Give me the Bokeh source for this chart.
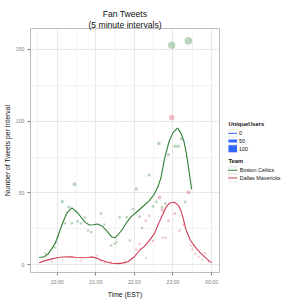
import numpy as np
from bokeh.plotting import figure
from bokeh.layouts import row
from bokeh.models import FixedTicker, Title, Range1d
from bokeh.core.properties import value
from bokeh.embed import file_html
from bokeh.resources import INLINE

FONT = "Liberation Sans"
GREEN = "#2f7f34"
RED = "#d23c55"
BLUE = "#3366ff"

# ---------------- data ----------------
x_tick_labels = ["20:00", "21:00", "22:00", "23:00", "00:00"]
y_tick_values = [0, 50, 100, 150]

celtics_time = ["19:42", "19:56", "19:58", "20:01", "20:08", "20:12", "20:18", "20:23", "20:27",
                "20:32", "20:37", "20:43", "20:48", "20:53", "21:08", "21:13", "21:24", "21:29",
                "21:32", "21:37", "21:48", "21:53", "21:58", "22:03", "22:08", "22:12", "22:23",
                "22:29", "22:34", "22:38", "22:43", "22:48", "22:53", "22:58", "23:03", "23:08",
                "23:13", "23:19", "23:24"]
celtics_tweets = [7.6, 12, 15.7, 19, 44, 28.8, 40, 28.8, 56,
                  30, 28.8, 33, 23.7, 22.6, 35.7, 27.9, 13.3, 14.5,
                  15.7, 33, 33, 16.8, 38.7, 52.7, 33.4, 25.6, 62.4,
                  40.5, 43.7, 84.5, 39.9, 42.6, 76.7, 153, 82.5, 82.5,
                  87.6, 43.7, 156]
celtics_users = [5, 5, 6, 6, 14, 8, 12, 8, 22,
                 9, 8, 10, 7, 7, 10, 6, 6, 6,
                 6, 9, 8, 6, 9, 14, 8, 6, 12,
                 9, 9, 18, 9, 9, 14, 100, 16, 16,
                 14, 9, 110]

mavs_time = ["19:52", "20:08", "20:23", "20:37", "20:54", "21:02", "21:07", "21:14", "21:24",
             "21:35", "21:45", "22:03", "22:08", "22:18", "22:18", "22:23", "22:29", "22:39",
             "22:43", "22:44", "22:49", "22:53", "22:58", "23:03", "23:10", "23:16", "23:24",
             "23:28", "23:30", "23:35", "23:40", "23:46", "23:50", "23:55"]
mavs_tweets = [2, 2.8, 5.7, 2.8, 5.3, 6.4, 2.8, 1.4, 2,
               1, 2.5, 10.6, 14.5, 4.8, 30.6, 34, 16.4, 46.8,
               38, 18.7, 18.7, 30.6, 102.5, 35.7, 23.7, 27.9, 50.4,
               13.3, 10.4, 7.6, 5.3, 3, 8, 2]
mavs_users = [2, 2, 3, 2, 3, 3, 2, 2, 2,
              2, 2, 4, 5, 3, 7, 7, 5, 20,
              12, 5, 5, 8, 55, 10, 6, 6, 22,
              4, 4, 4, 3, 2, 3, 2]

celtics_smooth_time = ["19:32", "19:40", "19:46", "19:52", "19:57", "20:02", "20:08", "20:15",
                       "20:23", "20:32", "20:43", "20:50", "20:56", "21:03", "21:10", "21:17",
                       "21:25", "21:30", "21:35", "21:42", "21:48", "21:55", "22:03", "22:12",
                       "22:23", "22:30", "22:36", "22:41", "22:47", "22:54", "23:00", "23:07",
                       "23:12", "23:17", "23:21", "23:25", "23:29"]
celtics_smooth = [5, 5.5, 7.5, 11.5, 15, 21, 28.5, 36,
                  39.6, 36, 29.6, 27.6, 27.8, 28.3, 26.8, 23.5,
                  19.2, 18.7, 21, 25, 29.5, 33.5, 36.5, 40,
                  44.4, 48.5, 53.7, 60, 74, 86, 92, 95.2,
                  92, 86, 77, 65, 52.5]

mavs_smooth_time = ["19:32", "19:40", "19:52", "20:00", "20:08", "20:20", "20:30", "20:38",
                    "20:46", "20:54", "21:02", "21:09", "21:17", "21:25", "21:35", "21:43",
                    "21:50", "22:00", "22:08", "22:15", "22:21", "22:26", "22:31", "22:36",
                    "22:44", "22:49", "22:55", "23:02", "23:08", "23:12", "23:16", "23:20",
                    "23:27", "23:35", "23:43", "23:50", "23:58", "00:00"]
mavs_smooth = [1.3, 2.6, 4, 4.8, 5.3, 5.5, 5, 4.8,
               5, 5.3, 4.5, 3, 1.8, 1, 0.7, 1.2,
               2, 5.5, 10, 12.5, 15.5, 18.5, 21.5, 27,
               35, 40, 43, 43.5, 41.5, 38, 32, 24.5,
               17, 12, 8, 5, 1.9, 1.3]

size_legend_values = [0, 50, 100]
size_legend_title = "UniqueUsers"
team_legend_title = "Team"
teams = ["Boston Celtics", "Dallas Mavericks"]


def hours(t):
    h, m = map(int, t.split(":"))
    if h < 12:
        h += 24
    return h + m / 60.0


def dot_size(users):
    return [1.0 + 0.64 * np.sqrt(u) for u in users]


# ---------------- main plot ----------------
p = figure(width=222, height=300, output_backend="svg", toolbar_location=None,
           x_range=Range1d(19.308, 24.205), y_range=Range1d(-5.5, 164.6),
           min_border_left=28, min_border_right=3, min_border_top=28, min_border_bottom=27)
p.background_fill_color = "white"
p.border_fill_color = "white"
p.outline_line_color = "#bdbdbd"
p.outline_line_width = 1

p.title.text = "Fan Tweets"
p.title.align = "center"
p.title.text_font = FONT
p.title.text_font_size = "8.6px"
p.title.text_font_style = "normal"
p.title.text_color = "#111111"
p.title.standoff = -1
p.title.offset = 0
t2 = Title(text="(5 minute intervals)", align="center", text_font=FONT, text_font_size="8.6px",
           text_font_style="normal", text_color="#111111", standoff=-2)
p.add_layout(t2, "above")

tick_hours = [hours(t) for t in x_tick_labels]
p.xaxis.ticker = FixedTicker(ticks=tick_hours,
                             minor_ticks=[h - 0.5 for h in tick_hours] + [tick_hours[-1] + 0.5])
p.xaxis.major_label_overrides = {h: lab for h, lab in zip(tick_hours, x_tick_labels)}
p.yaxis.ticker = FixedTicker(ticks=y_tick_values,
                             minor_ticks=[v + 25 for v in y_tick_values])

for ax in (p.xaxis, p.yaxis):
    ax.axis_line_color = None
    ax.major_tick_in = 0
    ax.major_tick_out = 3
    ax.major_tick_line_color = "#7f7f7f"
    ax.minor_tick_line_color = None
    ax.major_label_text_font = FONT
    ax.major_label_text_font_size = "5.2px"
    ax.major_label_text_color = "#7f7f7f"
    ax.major_label_standoff = 2
    ax.axis_label_text_font = FONT
    ax.axis_label_text_font_size = "6.8px"
    ax.axis_label_text_font_style = "normal"
    ax.axis_label_text_color = "#111111"

p.xaxis.axis_label = "Time (EST)"
p.xaxis.axis_label_standoff = 3
p.yaxis.axis_label = "Number of Tweets per Interval"
p.yaxis.axis_label_standoff = 2

p.xgrid.grid_line_color = "#e8e8e8"
p.ygrid.grid_line_color = "#e8e8e8"
p.xgrid.minor_grid_line_color = "#f3f3f3"
p.ygrid.minor_grid_line_color = "#f3f3f3"

p.scatter([hours(t) for t in celtics_time], celtics_tweets, size=dot_size(celtics_users),
          fill_color=GREEN, fill_alpha=0.32, line_color=None)
p.scatter([hours(t) for t in mavs_time], mavs_tweets, size=dot_size(mavs_users),
          fill_color=RED, fill_alpha=0.32, line_color=None)

p.line([hours(t) for t in celtics_smooth_time], celtics_smooth, line_color=GREEN, line_width=1.1)
p.line([hours(t) for t in mavs_smooth_time], mavs_smooth, line_color=RED, line_width=1.1)

# ---------------- legend panel ----------------
q = figure(width=78, height=300, output_backend="svg", toolbar_location=None,
           x_range=Range1d(222, 300), y_range=Range1d(300, 0),
           x_axis_location=None, y_axis_location=None,
           min_border=0, min_border_left=0, min_border_right=0,
           min_border_top=0, min_border_bottom=0)
q.title.visible = False
q.grid.visible = False
q.outline_line_color = None
q.background_fill_color = "white"
q.border_fill_color = "white"

key_x0, key_x1 = 228.0, 236.5
size_key_y = [128.9, 138.4, 147.9]
size_key_w = [1, 3, 7]
team_key_y = [174.2, 183.9]

q.rect(x=[(key_x0 + key_x1) / 2] * 5, y=size_key_y + team_key_y, width=key_x1 - key_x0,
       height=9.4, fill_color="white", line_color="#e3e3e3", line_width=0.7)
q.segment(x0=[key_x0] * 3, x1=[key_x1] * 3, y0=size_key_y, y1=size_key_y,
          line_color=BLUE, line_width=size_key_w)
q.segment(x0=[key_x0] * 2, x1=[key_x1] * 2, y0=team_key_y, y1=team_key_y,
          line_color=[GREEN, RED], line_width=1.1)

q.text(x=[228, 228], y=[118, 163.5], text=[size_legend_title, team_legend_title],
       text_font=value(FONT), text_font_size=value("5.8px"), text_font_style="bold",
       text_baseline="middle", text_align="left", text_color="#111111")
q.text(x=[238.5] * 3, y=size_key_y, text=[str(v) for v in size_legend_values],
       text_font=value(FONT), text_font_size=value("5.4px"),
       text_baseline="middle", text_align="left", text_color="#111111")
q.text(x=[239.3] * 2, y=team_key_y, text=teams,
       text_font=value(FONT), text_font_size=value("5.4px"),
       text_baseline="middle", text_align="left", text_color="#111111")

layout = row(p, q)
open("out.html", "w").write(file_html(layout, INLINE))
